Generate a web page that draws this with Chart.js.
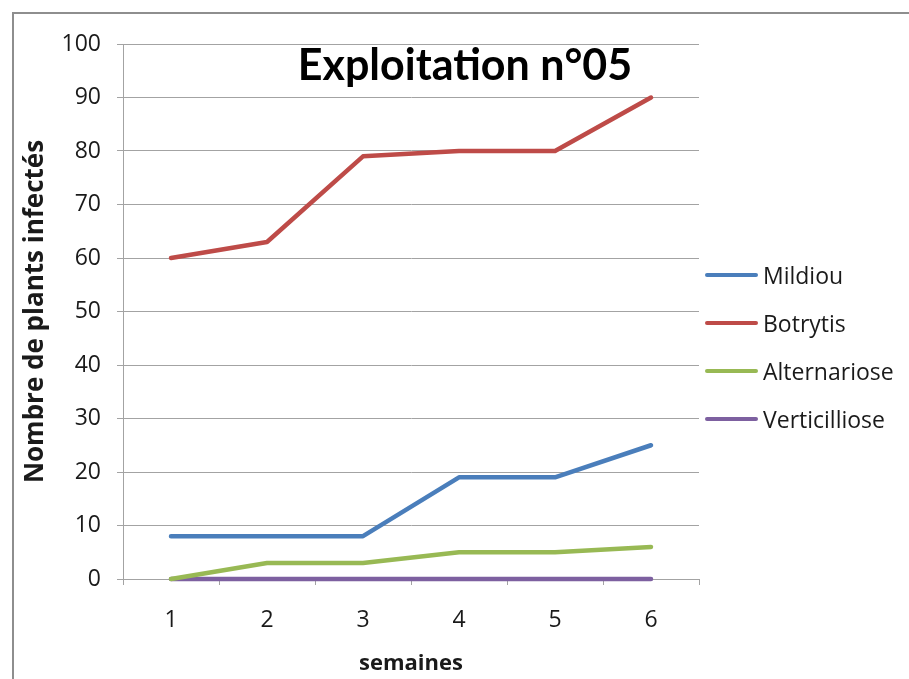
<!DOCTYPE html>
<html>
<head>
<meta charset="utf-8">
<script src="https://cdn.jsdelivr.net/npm/chart.js@4"></script>
<style>
  html, body { margin: 0; padding: 0; background: #fff; }
  #wrap { position: relative; width: 909px; height: 679px; overflow: hidden; }
  #frame {
    position: absolute; left: 12px; top: 12px; width: 1000px; height: 800px;
    border-left: 2px solid #8e8e8e; border-top: 2px solid #8e8e8e;
  }
  canvas { position: absolute; left: 0; top: 0; }
  #legend { position: absolute; left: 705px; top: 0; font-family: "Open Sans", sans-serif; font-size: 23px; color: #1a1a1a; }
  #legend .item { position: absolute; left: 0; white-space: nowrap; display: flex; align-items: center; height: 30px; }
  #legend .swatch { width: 53px; height: 4px; border-radius: 2px; margin-right: 5px; }
</style>
</head>
<body>
<div id="wrap">
  <div id="frame"></div>
  <canvas id="chart" width="909" height="679"></canvas>
  <div id="legend"></div>
</div>
<script>
const weeks = ["1", "2", "3", "4", "5", "6"];
const seriesNames = ["Mildiou", "Botrytis", "Alternariose", "Verticilliose"];
const mildiou = [8, 8, 8, 19, 19, 25];
const botrytis = [60, 63, 79, 80, 80, 90];
const alternariose = [0, 3, 3, 5, 5, 6];
const verticilliose = [0, 0, 0, 0, 0, 0];
const seriesColors = ["#4a7ebb", "#be4b48", "#98b954", "#7d60a0"];
const yMin = 0;
const yMax = 100;
const yStep = 10;

const chartTitle = "Exploitation n°05";
const yTitle = "Nombre de plants infectés";
const xTitle = "semaines";

const gridColor = "#a3a3a3";
const textColor = "#1a1a1a";

const allSeries = [mildiou, botrytis, alternariose, verticilliose];

const titlePlugin = {
  id: "innerTitle",
  afterDraw(chart) {
    const ctx = chart.ctx;
    ctx.save();
    ctx.font = "bold 43px Lato";
    ctx.fillStyle = "#000";
    ctx.textAlign = "center";
    ctx.textBaseline = "alphabetic";
    ctx.fillText(chartTitle, 465, 80);
    ctx.restore();
  },
};

new Chart(document.getElementById("chart"), {
  type: "line",
  data: {
    labels: weeks,
    datasets: allSeries.map((values, i) => ({
      label: seriesNames[i],
      data: values,
      borderColor: seriesColors[i],
      backgroundColor: seriesColors[i],
      borderWidth: 4.5,
      borderCapStyle: "round",
      borderJoinStyle: "round",
      pointRadius: 0,
      tension: 0,
      clip: false,
    })),
  },
  options: {
    responsive: false,
    animation: false,
    events: [],
    layout: { padding: { left: 0, top: 44, right: 210, bottom: 0 } },
    plugins: {
      legend: { display: false },
      title: { display: false },
      tooltip: { enabled: false },
    },
    scales: {
      x: {
        offset: true,
        grid: {
          offset: true,
          drawOnChartArea: false,
          drawTicks: true,
          tickLength: 6,
          color: gridColor,
        },
        border: { color: gridColor, width: 1 },
        ticks: {
          color: textColor,
          font: { family: "Open Sans", size: 23 },
          padding: 22,
          maxRotation: 0,
        },
        title: {
          display: true,
          text: xTitle,
          color: textColor,
          font: { family: "Open Sans", size: 22, weight: "bold" },
          padding: { top: 0, bottom: 2 },
        },
        afterFit(scale) { scale.height = 100; },
      },
      y: {
        min: yMin,
        max: yMax,
        ticks: {
          stepSize: yStep,
          color: textColor,
          font: { family: "Open Sans", size: 23 },
          padding: 16,
        },
        grid: {
          color: gridColor,
          tickLength: 6,
        },
        border: { color: gridColor, width: 1 },
        title: {
          display: true,
          text: yTitle,
          color: textColor,
          font: { family: "Open Sans", size: 26, weight: "bold" },
          padding: { top: 20, bottom: 0 },
        },
        afterFit(scale) { scale.width = 123; },
      },
    },
  },
  plugins: [titlePlugin],
});

// legend built from the same series
const legendEl = document.getElementById("legend");
const legendTops = [260, 308, 356, 404];
seriesNames.forEach((name, i) => {
  const item = document.createElement("div");
  item.className = "item";
  item.style.top = legendTops[i] + "px";
  const sw = document.createElement("span");
  sw.className = "swatch";
  sw.style.background = seriesColors[i];
  const label = document.createElement("span");
  label.textContent = name;
  item.appendChild(sw);
  item.appendChild(label);
  legendEl.appendChild(item);
});
</script>
</body>
</html>
